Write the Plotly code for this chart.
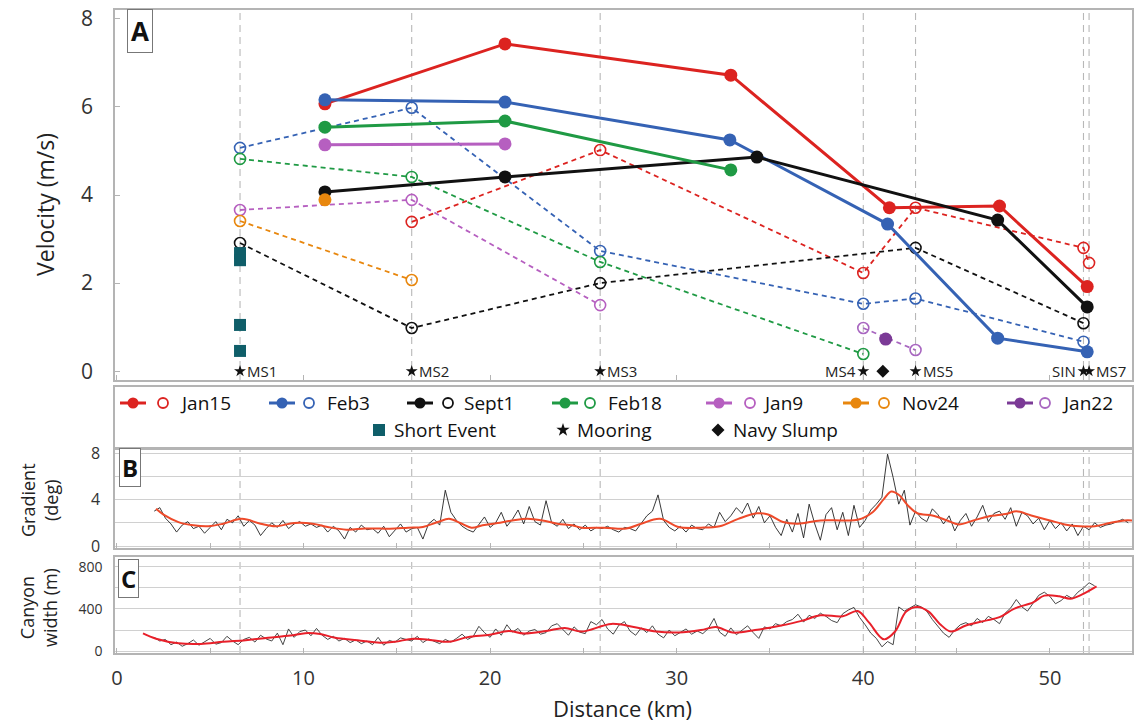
import numpy as np
import plotly.graph_objects as go

# ---------------- data ----------------
mooring_names = ["MS1", "MS2", "MS3", "MS4", "MS5", "SIN", "MS7"]
mooring_km = [6.6, 15.8, 25.9, 40.0, 42.8, 51.8, 52.1]
navy_slump_km = [41.05]

# solid markers (survey-derived velocities)
jan15_x = [11.15, 20.8, 32.9, 41.4, 47.3, 52.0]
jan15_v = [6.07, 7.43, 6.72, 3.71, 3.75, 1.92]
feb3_x = [11.15, 20.8, 32.85, 41.3, 47.2, 52.0]
feb3_v = [6.16, 6.11, 5.25, 3.34, 0.75, 0.44]
sept1_x = [11.15, 20.8, 34.3, 47.2, 52.0]
sept1_v = [4.07, 4.41, 4.86, 3.43, 1.46]
feb18_x = [11.15, 20.8, 32.9]
feb18_v = [5.54, 5.68, 4.57]
jan9_x = [11.15, 20.8]
jan9_v = [5.14, 5.16]
nov24_x = [11.15]
nov24_v = [3.89]
jan22_x = [41.2]
jan22_v = [0.73]

# open markers (mooring velocities)
jan15_mx = [15.8, 25.9, 40.0, 42.8, 51.8, 52.1]
jan15_mv = [3.39, 5.02, 2.23, 3.71, 2.80, 2.46]
feb3_mx = [6.6, 15.8, 25.9, 40.0, 42.8, 51.8]
feb3_mv = [5.07, 5.98, 2.73, 1.53, 1.65, 0.67]
sept1_mx = [6.6, 15.8, 25.9, 42.8, 51.8]
sept1_mv = [2.91, 0.98, 2.00, 2.80, 1.09]
feb18_mx = [6.6, 15.8, 25.9, 40.0]
feb18_mv = [4.82, 4.41, 2.48, 0.39]
jan9_mx = [6.6, 15.8, 25.9]
jan9_mv = [3.66, 3.89, 1.50]
nov24_mx = [6.6, 15.8]
nov24_mv = [3.41, 2.07]
jan22_mx = [40.0, 42.8]
jan22_mv = [0.98, 0.48]

short_event_x = [6.6, 6.6, 6.6, 6.6]
short_event_v = [2.68, 2.52, 1.05, 0.46]

# panel B: gradient (deg)
grad_smooth_km = [2.1, 2.5, 3.3, 4.1, 4.9, 5.7, 6.7, 7.7, 8.5, 9.5, 10.5, 11.3, 12.3, 13.3, 14.1, 14.9,
                  15.6, 16.4, 17.2, 17.8, 18.4, 19.0, 19.6, 20.4, 21.2, 22.0, 22.8, 23.6, 24.4, 24.9,
                  26.1, 27.3, 28.1, 29.1, 30.1, 31.3, 32.3, 33.3, 34.3, 34.9, 35.7, 36.5, 37.7, 38.9,
                  39.7, 40.5, 41.1, 41.5, 41.9, 42.4, 42.9, 43.7, 44.5, 45.1, 45.9, 46.7, 47.7, 48.2,
                  49.0, 50.0, 50.8, 51.6, 52.4, 53.2, 54.0, 54.4]
grad_smooth = [3.2, 2.7, 2.06, 1.78, 1.7, 1.92, 2.34, 1.92, 1.7, 1.98, 1.92, 1.64, 1.41, 1.5, 1.5, 1.5,
               1.58, 1.64, 2.06, 2.34, 1.98, 1.58, 1.78, 1.98, 2.2, 2.34, 2.2, 1.92, 1.78, 1.58,
               1.58, 1.5, 1.92, 2.34, 1.64, 1.58, 1.7, 2.34, 2.82, 2.71, 2.06, 1.92, 2.2, 2.2,
               2.26, 2.91, 4.04, 4.69, 4.41, 3.47, 2.82, 2.63, 2.2, 1.86, 2.2, 2.54, 2.77, 2.99,
               2.63, 2.2, 1.86, 1.7, 1.7, 1.98, 2.2, 2.2]
grad_raw_start, grad_raw_step = 2.0, 0.3
grad_raw = [3.0, 3.3, 2.4, 1.9, 1.2, 1.8, 2.1, 1.5, 1.7, 1.1, 1.6,
            2.1, 1.4, 2.3, 2.0, 2.6, 1.7, 2.2, 1.8, 0.9, 1.5,
            2.0, 1.6, 2.2, 1.5, 1.9, 2.1, 1.7, 1.9, 1.6, 1.8,
            1.2, 1.7, 1.3, 0.6, 1.6, 1.2, 1.8, 1.4, 1.5, 1.1,
            1.7, 0.8, 1.4, 1.9, 1.2, 1.5, 1.6, 0.6, 1.9, 2.3,
            1.8, 4.8, 2.9, 2.2, 1.7, 1.4, 1.2, 1.8, 2.5, 1.6,
            2.0, 2.9, 1.7, 2.3, 3.1, 1.9, 3.4, 2.1, 1.8, 3.9,
            2.0, 1.7, 2.3, 1.5, 1.9, 1.4, 1.8, 1.3, 1.6, 1.5,
            1.7, 1.4, 1.2, 1.6, 1.5, 1.3, 2.0, 2.6, 3.0, 4.4,
            2.2, 1.6, 1.3, 1.7, 1.2, 1.8, 1.5, 1.4, 1.9, 1.6,
            2.9, 2.1, 2.6, 3.3, 2.8, 3.7, 2.4, 3.4, 2.0, 2.6,
            1.6, 0.9, 2.3, 1.2, 2.8, 0.7, 3.6, 1.9, 0.5, 2.7,
            3.3, 1.4, 2.9, 0.9, 3.5, 1.6, 2.2, 3.1, 3.6, 4.2,
            7.9, 5.9, 3.6, 4.8, 1.8, 3.0, 2.4, 2.1, 3.2, 2.7,
            1.9, 2.6, 1.3, 2.2, 2.8, 1.7, 2.5, 3.5, 2.1, 2.8,
            3.0, 2.3, 3.3, 1.7, 2.9, 2.6, 1.9, 2.4, 1.4, 2.2,
            1.5, 2.0, 1.3, 1.9, 0.9, 1.7, 1.4, 2.0, 1.6, 1.8,
            1.9, 2.1, 2.3, 2.0]

# panel C: canyon width (m)
width_smooth_km = [1.4, 2.1, 3.3, 4.5, 5.7, 6.9, 8.1, 9.3, 10.1, 10.9, 11.7, 12.9, 14.1, 14.9, 15.9,
                   16.9, 17.8, 18.8, 20.0, 21.0, 21.8, 23.0, 24.0, 24.9, 26.5, 27.7, 28.9, 30.1, 31.3,
                   32.1, 33.0, 34.2, 35.6, 36.7, 37.7, 38.9, 39.7, 40.3, 41.1, 41.7, 42.3, 42.9, 43.5,
                   44.1, 44.7, 45.5, 46.5, 47.3, 48.1, 49.1, 49.7, 50.5, 51.1, 51.7, 52.5]
width_smooth = [167, 117, 73, 67, 88, 103, 126, 147, 170, 161, 126, 103, 79, 88, 117,
                103, 88, 132, 155, 190, 167, 190, 220, 185, 258, 228, 185, 176, 199,
                228, 176, 199, 243, 287, 340, 331, 381, 272, 111, 185, 375, 419, 375,
                258, 185, 243, 287, 322, 404, 463, 527, 521, 498, 536, 615]
width_raw_start, width_raw_step = 2.0, 0.3
width_raw = [130, 95, 110, 60, 85, 45, 70, 105, 55, 90,
             120, 65, 80, 140, 95, 60, 110, 130, 85, 150,
             115, 95, 170, 60, 210, 130, 185, 200, 145, 215,
             150, 110, 140, 95, 120, 80, 105, 70, 95, 60,
             130, 55, 100, 85, 125, 110, 95, 140, 80, 115,
             95, 70, 110, 85, 120, 160, 110, 140, 235, 175,
             130, 210, 150, 250, 180, 215, 150, 190, 205, 160,
             175, 240, 260, 200, 150, 230, 180, 165, 280, 250,
             300, 210, 160, 245, 280, 190, 150, 220, 175, 240,
             160, 125, 200, 145, 180, 210, 160, 190, 165, 215,
             310, 180, 140, 220, 155, 200, 240, 175, 120, 230,
             210, 260, 240, 280, 300, 350, 275, 340, 310, 360,
             330, 290, 270, 355, 390, 415, 320, 250, 170, 120,
             40, 90, 60, 420, 380, 410, 440, 420, 380, 300,
             230, 170, 130, 200, 250, 270, 240, 310, 270, 330,
             300, 260, 360, 410, 490, 420, 380, 460, 530, 560,
             520, 450, 480, 530, 500, 560, 600, 650, 620]

# ---------------- styles ----------------
FONT = "Open Sans"
RED, BLUE, BLACK, GREEN = "#dc2320", "#3562b4", "#111111", "#1f9a44"
MAG, ORANGE, PURPLE, PURPLE_O = "#b65fc0", "#e8870e", "#7b3a96", "#a866c0"
TEAL = "#0f5e69"
GRIDC = "#d0d0d0"
AXC = "#b4b4b4"

W, H = 1140, 722
ML, MR, MT, MB = 115, 8, 10, 69
PW, PH = W - ML - MR, H - MT - MB


def py2paper(py):
    return (H - MB - py) / PH


def px2paper(px):
    return (px - ML) / PW


fig = go.Figure()

series = [
    ("Jan15", RED, RED, jan15_x, jan15_v, jan15_mx, jan15_mv),
    ("Feb3", BLUE, BLUE, feb3_x, feb3_v, feb3_mx, feb3_mv),
    ("Sept1", BLACK, BLACK, sept1_x, sept1_v, sept1_mx, sept1_mv),
    ("Feb18", GREEN, GREEN, feb18_x, feb18_v, feb18_mx, feb18_mv),
    ("Jan9", MAG, MAG, jan9_x, jan9_v, jan9_mx, jan9_mv),
    ("Nov24", ORANGE, ORANGE, nov24_x, nov24_v, nov24_mx, nov24_mv),
    ("Jan22", PURPLE, PURPLE_O, jan22_x, jan22_v, jan22_mx, jan22_mv),
]

# dashed mooring series first (below)
for name, c, co, sx, sv, mx, mv in series:
    fig.add_trace(go.Scatter(x=mx, y=mv, mode="lines+markers", xaxis="x", yaxis="y",
                             line=dict(color=co, width=1.8, dash="5px,4px"),
                             marker=dict(symbol="circle-open", size=11, color=co, line=dict(width=1.6)),
                             showlegend=False, hoverinfo="skip"))
for name, c, co, sx, sv, mx, mv in series:
    fig.add_trace(go.Scatter(x=sx, y=sv, mode="lines+markers", xaxis="x", yaxis="y",
                             line=dict(color=c, width=3),
                             marker=dict(symbol="circle", size=13, color=c),
                             showlegend=False, hoverinfo="skip"))

fig.add_trace(go.Scatter(x=short_event_x, y=short_event_v, mode="markers", xaxis="x", yaxis="y",
                         marker=dict(symbol="square", size=12, color=TEAL), showlegend=False))

# mooring stars and navy slump
star_y = [0.0] * len(mooring_km)
fig.add_trace(go.Scatter(x=mooring_km, y=star_y, mode="markers", xaxis="x", yaxis="y",
                         marker=dict(symbol="star", size=9, color="#111"), showlegend=False))
fig.add_trace(go.Scatter(x=navy_slump_km, y=[0.0], mode="markers", xaxis="x", yaxis="y",
                         marker=dict(symbol="diamond", size=10, color="#111"), showlegend=False))

annotations = []
for nm, km in zip(mooring_names, mooring_km):
    left_side = nm in ("MS4", "SIN")
    annotations.append(dict(x=km, y=0.0, xref="x", yref="y", text=nm, showarrow=False,
                            xanchor="right" if left_side else "left", yanchor="middle",
                            xshift=-5 if left_side else 5,
                            font=dict(family=FONT, size=15, color="#222")))

# panel B
grad_raw_km = np.round(grad_raw_start + grad_raw_step * np.arange(len(grad_raw)), 2)
fig.add_trace(go.Scatter(x=grad_raw_km, y=grad_raw, mode="lines", xaxis="x2", yaxis="y2",
                         line=dict(color="#222", width=0.9), showlegend=False))
fig.add_trace(go.Scatter(x=grad_smooth_km, y=grad_smooth, mode="lines", xaxis="x2", yaxis="y2",
                         line=dict(color="#ee4a2a", width=2, shape="spline", smoothing=1.0), showlegend=False))

# panel C
width_raw_km = np.round(width_raw_start + width_raw_step * np.arange(len(width_raw)), 2)
fig.add_trace(go.Scatter(x=width_raw_km, y=width_raw, mode="lines", xaxis="x3", yaxis="y3",
                         line=dict(color="#333", width=0.9), showlegend=False))
fig.add_trace(go.Scatter(x=width_smooth_km, y=width_smooth, mode="lines", xaxis="x3", yaxis="y3",
                         line=dict(color="#e8202a", width=2, shape="spline", smoothing=1.0), showlegend=False))

# ---------------- legend (manual, drawn in its own axis) ----------------
leg_entries = [  # name, solid color, open color, dot px, open px, text px
    ("Jan15", RED, RED, 133, 163, 178),
    ("Feb3", BLUE, BLUE, 282, 309, 325),
    ("Sept1", BLACK, BLACK, 420, 448, 462),
    ("Feb18", GREEN, GREEN, 565, 590, 606),
    ("Jan9", MAG, MAG, 719, 750, 761),
    ("Nov24", ORANGE, ORANGE, 856, 884, 900),
    ("Jan22", PURPLE, PURPLE_O, 1020, 1045, 1060),
]
row1, row2 = 403, 430
for name, c, co, dpx, opx, tpx in leg_entries:
    fig.add_trace(go.Scatter(x=[dpx - 13, dpx + 13], y=[row1, row1], mode="lines", xaxis="x4", yaxis="y4",
                             line=dict(color=c, width=3), showlegend=False, hoverinfo="skip"))
    fig.add_trace(go.Scatter(x=[dpx], y=[row1], mode="markers", xaxis="x4", yaxis="y4",
                             marker=dict(symbol="circle", size=11, color=c), showlegend=False, hoverinfo="skip"))
    fig.add_trace(go.Scatter(x=[opx], y=[row1], mode="markers", xaxis="x4", yaxis="y4",
                             marker=dict(symbol="circle-open", size=10, color=co, line=dict(width=1.8)),
                             showlegend=False, hoverinfo="skip"))
    annotations.append(dict(x=tpx, y=row1, xref="x4", yref="y4", text=name, showarrow=False,
                            xanchor="left", yanchor="middle", font=dict(family=FONT, size=19, color="#111")))
row2_entries = [("Short Event", "square", TEAL, 379, 392, 12),
                ("Mooring", "star", "#111", 563, 575, 10),
                ("Navy Slump", "diamond", "#111", 718, 731, 10)]
for name, sym, c, mpx, tpx, sz in row2_entries:
    fig.add_trace(go.Scatter(x=[mpx], y=[row2], mode="markers", xaxis="x4", yaxis="y4",
                             marker=dict(symbol=sym, size=sz, color=c), showlegend=False, hoverinfo="skip"))
    annotations.append(dict(x=tpx, y=row2, xref="x4", yref="y4", text=name, showarrow=False,
                            xanchor="left", yanchor="middle", font=dict(family=FONT, size=19, color="#111")))

# ---------------- shapes: mooring dashed lines ----------------
shapes = []
for xr, yr in (("x", "y"), ("x2", "y2"), ("x3", "y3")):
    for km in mooring_km:
        shapes.append(dict(type="line", xref=xr, yref=yr + " domain", x0=km, x1=km, y0=0, y1=1,
                           line=dict(color="#b8b8b8", width=1.1, dash="7px,5px"), layer="below"))

# panel letters
for letter, cx, cy, fs, pad in (("A", 140, 31, 26, 3), ("B", 130, 467, 24, 2), ("C", 128, 578, 24, 2)):
    annotations.append(dict(x=px2paper(cx), y=py2paper(cy), xref="paper", yref="paper",
                            xanchor="center", yanchor="middle",
                            text="<b>%s</b>" % letter, showarrow=False, bgcolor="white",
                            bordercolor="#777", borderwidth=1, borderpad=pad,
                            font=dict(family=FONT, size=fs, color="#111")))

# axis titles
annotations += [
    dict(x=px2paper(45), y=py2paper(205), xref="paper", yref="paper", text="Velocity (m/s)",
         xanchor="center", yanchor="middle",
         textangle=-90, showarrow=False, font=dict(family=FONT, size=23, color="#222")),
    dict(x=px2paper(40), y=py2paper(500), xref="paper", yref="paper", text="Gradient<br>(deg)",
         xanchor="center", yanchor="middle",
         textangle=-90, showarrow=False, font=dict(family=FONT, size=18, color="#222")),
    dict(x=px2paper(38), y=py2paper(608), xref="paper", yref="paper", text="Canyon<br>width (m)",
         xanchor="center", yanchor="middle",
         textangle=-90, showarrow=False, font=dict(family=FONT, size=18, color="#222")),
    dict(x=px2paper(622), y=py2paper(708), xref="paper", yref="paper", text="Distance (km)",
         xanchor="center", yanchor="middle",
         showarrow=False, font=dict(family=FONT, size=22, color="#222")),
]

xrng = [-0.1, 54.4]
axbase = dict(showline=True, linecolor=AXC, linewidth=1.5, mirror=True, ticks="inside",
              tickcolor=AXC, ticklen=5, zeroline=False, showgrid=False, automargin=False,
              tickfont=dict(family=FONT, color="#333"))

fig.update_layout(
    width=W, height=H, margin=dict(l=ML, r=MR, t=MT, b=MB, autoexpand=False),
    paper_bgcolor="white", plot_bgcolor="white",
    font=dict(family=FONT),
    xaxis=dict(axbase, domain=[0, 1], range=xrng, anchor="y", tickvals=[0, 10, 20, 30, 40, 50],
               showticklabels=False),
    yaxis=dict(axbase, domain=[py2paper(380), py2paper(10)], range=[-0.2, 8.2], anchor="x",
               tickvals=[0, 2, 4, 6, 8], tickfont=dict(family=FONT, size=21, color="#333"),
               ticklabelstandoff=16),
    xaxis2=dict(axbase, domain=[0, 1], range=xrng, anchor="y2", matches="x",
                tickvals=[0, 5, 10, 15, 20, 25, 30, 35, 40, 45, 50], showticklabels=False),
    yaxis2=dict(axbase, domain=[py2paper(548), py2paper(450)], range=[-0.17, 8.26], anchor="x2",
                tickvals=[0, 2, 4, 6, 8], ticktext=["0", "", "4", "", "8"], showgrid=True,
                gridcolor=GRIDC, gridwidth=1.2, ticks="", tickfont=dict(family=FONT, size=16, color="#333"),
                ticklabelstandoff=10),
    xaxis3=dict(axbase, domain=[0, 1], range=xrng, anchor="y3", matches="x",
                tickvals=[0, 5, 10, 15, 20, 25, 30, 35, 40, 45, 50],
                ticktext=["0", "", "10", "", "20", "", "30", "", "40", "", "50"],
                tickfont=dict(family=FONT, size=20, color="#333"), ticklabelstandoff=6),
    yaxis3=dict(axbase, domain=[0, py2paper(557)], range=[-19, 895], anchor="x3",
                tickvals=[0, 200, 400, 600, 800], ticktext=["0", "", "400", "", "800"], showgrid=True,
                gridcolor=GRIDC, gridwidth=1.2, ticks="", tickfont=dict(family=FONT, size=14, color="#333"),
                ticklabelstandoff=8),
    xaxis4=dict(domain=[0, 1], range=[ML, W - MR], anchor="y4", showticklabels=False, ticks="",
                showgrid=False, zeroline=False, showline=True, mirror=True, linecolor=AXC, linewidth=1.5,
                automargin=False),
    yaxis4=dict(domain=[py2paper(447), py2paper(387)], range=[447, 387], anchor="x4", showticklabels=False,
                ticks="", showgrid=False, zeroline=False, showline=True, mirror=True, linecolor=AXC,
                linewidth=1.5, automargin=False),
    shapes=shapes,
    annotations=annotations,
    showlegend=False,
)

fig.write_html("out.html", config={"displayModeBar": False},
               post_script="document.body.style.margin='0px';")
